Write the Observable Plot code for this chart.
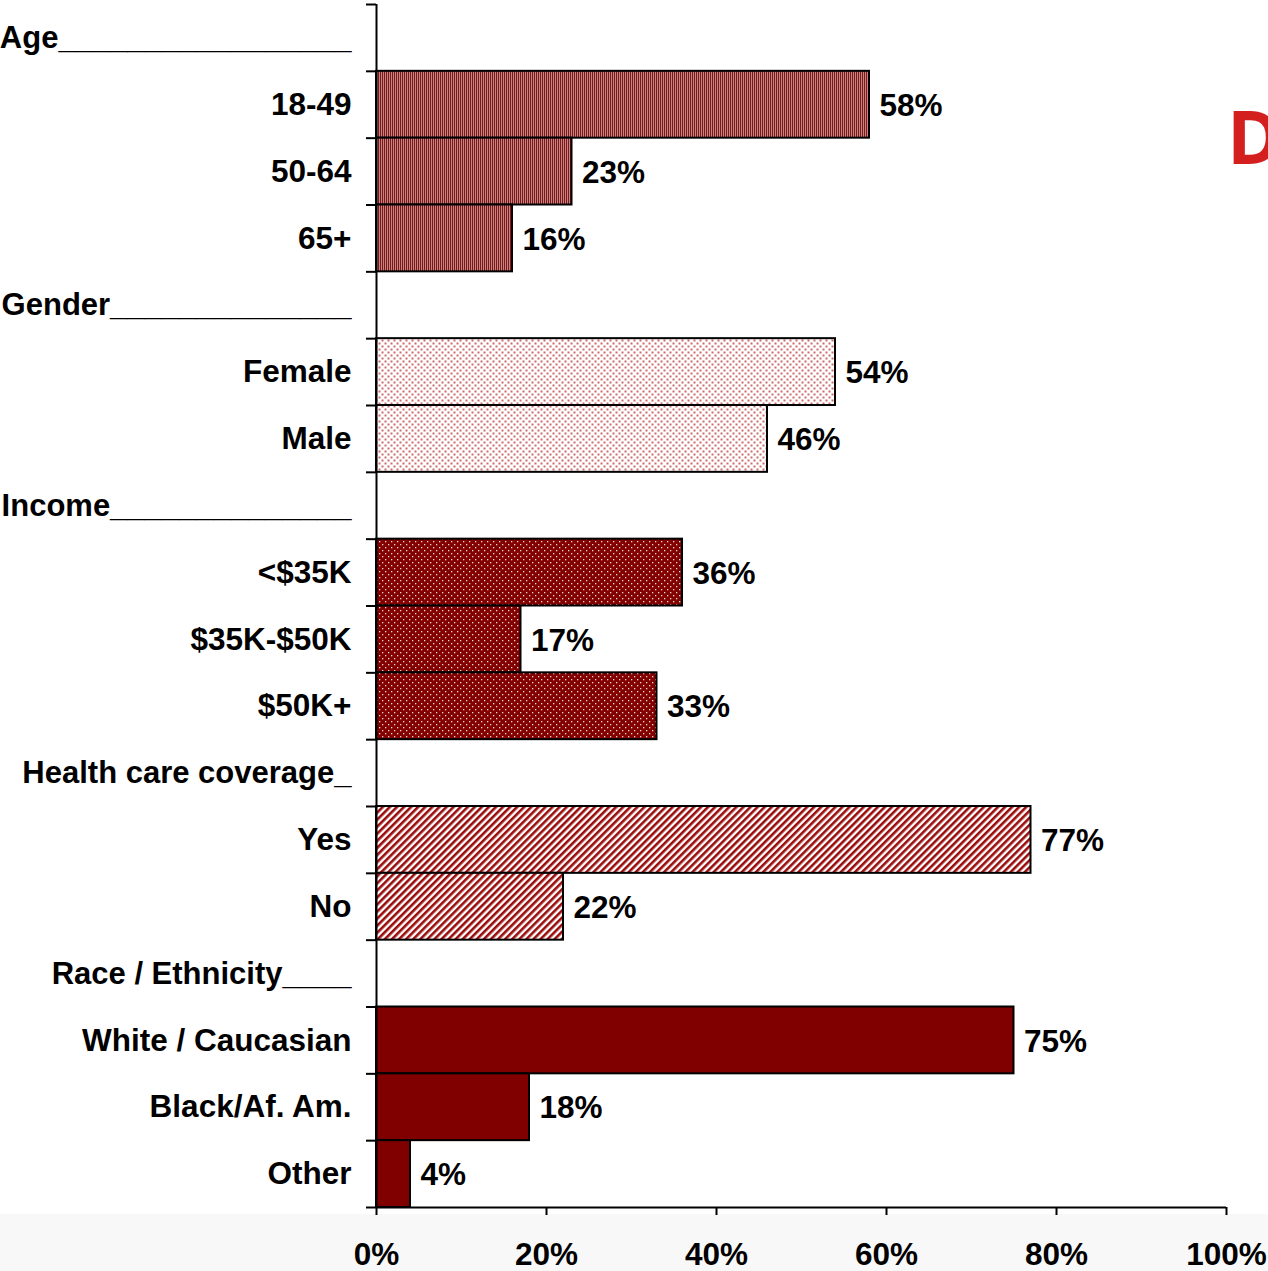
<!DOCTYPE html>
<html>
<head>
<meta charset="utf-8">
<script src="https://cdn.jsdelivr.net/npm/d3@7"></script>
<script src="https://cdn.jsdelivr.net/npm/@observablehq/plot@0.6"></script>
<style>
  html, body { margin: 0; padding: 0; }
  body { width: 1268px; height: 1271px; background: linear-gradient(to bottom, #ffffff 0px, #ffffff 1214px, #f8f8f8 1214px); overflow: hidden; }
  #chart svg { background: transparent !important; }
</style>
</head>
<body>
<div id="chart"></div>
<script>
// ---- data ----
const groupHeadings = [
  "Age_________________",
  "Gender______________",
  "Income______________",
  "Health care coverage_",
  "Race / Ethnicity____"
];
const categories = ["18-49", "50-64", "65+", "Female", "Male", "<$35K", "$35K-$50K", "$50K+", "Yes", "No", "White / Caucasian", "Black/Af. Am.", "Other"];
const values = [58, 23, 16, 54, 46, 36, 17, 33, 77, 22, 75, 18, 4];
const categoryGroup = [0, 0, 0, 1, 1, 2, 2, 2, 3, 3, 4, 4, 4];
const xTicks = [0, 20, 40, 60, 80, 100];
const groupFills = ["url(#pAge)", "url(#pGender)", "url(#pIncome)", "url(#pHealth)", "#800000"];

// ---- build rows (headings + categories) ----
const rows = [];
groupHeadings.forEach((h, g) => {
  rows.push({ i: rows.length, label: h, group: g, value: null, heading: true });
  categories.forEach((c, k) => {
    if (categoryGroup[k] === g) rows.push({ i: rows.length, label: c, group: g, value: values[k], heading: false });
  });
});
const nRows = rows.length;
const bars = rows.filter(r => !r.heading);
const heads = rows.filter(r => r.heading);

const font = "'Liberation Sans', Arial, sans-serif";
const fs = 31.5;

const marks = [];
groupFills.forEach((fill, g) => {
  marks.push(Plot.rectX(bars.filter(b => b.group === g), {
    x1: 0, x2: "value", y1: "i", y2: d => d.i + 1,
    fill, stroke: "black", strokeWidth: 2
  }));
});
marks.push(
  Plot.text(bars, {
    x: "value", y: d => d.i + 0.5, text: d => d.value + "%",
    dx: 10, dy: 1, textAnchor: "start", fontSize: fs, fontWeight: "bold", fill: "black"
  }),
  Plot.ruleX([0], { stroke: "black", strokeWidth: 2 }),
  Plot.ruleY([nRows], { stroke: "black", strokeWidth: 2 }),
  Plot.axisY({ ticks: d3.range(0, nRows + 1), tickSize: 10, tickFormat: () => "", label: null, strokeWidth: 2, stroke: "black" }),
  Plot.axisY({
    ticks: bars.map(r => r.i + 0.5), tickSize: 0, tickPadding: 25, label: null,
    tickFormat: d => rows[Math.floor(d)].label, fontSize: fs, fontWeight: "bold", fill: "black"
  }),
  Plot.axisY({
    ticks: heads.map(r => r.i + 0.5), tickSize: 0, tickPadding: 25, label: null,
    tickFormat: d => rows[Math.floor(d)].label, fontSize: 31, fontWeight: "bold", fill: "black"
  }),
  Plot.axisX({
    ticks: xTicks, tickSize: 8, tickPadding: 27, tickFormat: d => d + "%", label: null,
    fontSize: fs, fontWeight: "bold", fill: "black", strokeWidth: 2, stroke: "black"
  })
);

const svg = Plot.plot({
  width: 1268,
  height: 1271,
  marginLeft: 376,
  marginRight: 42,
  marginTop: 4,
  marginBottom: 64,
  style: { fontFamily: font, fontSize: fs + "px", fontWeight: "bold", background: "transparent", overflow: "visible" },
  x: { domain: [0, 100], label: null },
  y: { domain: [0, nRows], reverse: true, label: null },
  marks
});

// patterns
const defs = d3.select(svg).insert("defs", ":first-child");
defs.html(`
  <pattern id="pAge" width="2" height="10" patternUnits="userSpaceOnUse">
    <rect width="2" height="10" fill="#8c1212"/>
    <rect x="1" width="1" height="10" fill="#b48a8a"/>
  </pattern>
  <pattern id="pGender" width="6" height="6" patternUnits="userSpaceOnUse">
    <rect width="6" height="6" fill="#ffffff"/>
    <rect x="0.5" y="0.5" width="2" height="2" fill="#cc6a6a"/>
    <rect x="3.5" y="3.5" width="2" height="2" fill="#cc6a6a"/>
  </pattern>
  <pattern id="pIncome" width="6" height="6" patternUnits="userSpaceOnUse">
    <rect width="6" height="6" fill="#820000"/>
    <rect x="1" y="1" width="1.3" height="1.3" fill="#f0d8d8"/>
    <rect x="4" y="4" width="1.3" height="1.3" fill="#f0d8d8"/>
  </pattern>
  <pattern id="pHealth" width="5" height="5" patternUnits="userSpaceOnUse" patternTransform="rotate(45)">
    <rect width="5" height="5" fill="#ffffff"/>
    <rect width="2.6" height="5" fill="#9a0c0c"/>
  </pattern>
`);

// stray red letter at the right edge of the slide
d3.select(svg).append("text")
  .attr("x", 1227).attr("y", 164)
  .attr("font-family", "'Open Sans', 'Liberation Sans', sans-serif")
  .attr("font-size", 74).attr("font-weight", "bold")
  .attr("fill", "#d41f1f").attr("text-anchor", "start")
  .text("D");

document.getElementById("chart").appendChild(svg);
</script>
</body>
</html>
